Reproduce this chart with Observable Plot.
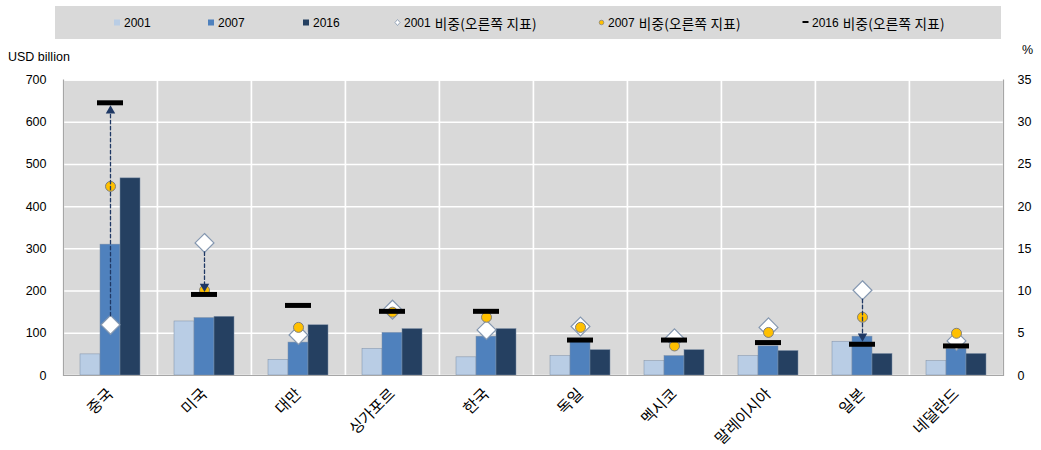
<!DOCTYPE html>
<html><head><meta charset="utf-8">
<script src="https://cdn.jsdelivr.net/npm/d3@7"></script>
<script src="https://cdn.jsdelivr.net/npm/@observablehq/plot@0.6"></script>
<style>
body{margin:0;background:#fff;font-family:"Liberation Sans",Arial,"Noto Sans CJK KR",sans-serif;}
#wrap{position:relative;width:1041px;height:450px;overflow:hidden;}
#legend{position:absolute;left:55px;top:6px;width:946px;height:33px;background:#d9d9d9;font-family:"Liberation Sans Narrow","Liberation Sans","Noto Sans CJK KR",sans-serif;font-size:12px;color:#000;}
.item{position:absolute;top:0;height:33px;display:flex;align-items:center;white-space:nowrap;}
.item svg{margin-right:3px;}
.ko{font-family:"Noto Sans CJK KR",sans-serif;font-size:13.5px;letter-spacing:0.3px;margin-left:4px;white-space:pre;}
#chart{position:absolute;left:0;top:42px;}
.unit{position:absolute;font-size:12.5px;color:#000;}
</style></head><body>
<div id="wrap">
  <div id="legend"></div>
  <div class="unit" style="left:8px;top:50px;">USD billion</div>
  <div class="unit" style="left:1022px;top:43px;">%</div>
  <div id="chart"></div>
</div>
<script>
// ---- data ----
const categories = ["중국","미국","대만","싱가포르","한국","독일","멕시코","말레이시아","일본","네덜란드"];
const years = ["2001","2007","2016"];
const v2001 = [50,128,37,63,43,46,34,46,80,34];
const v2007 = [310,136,78,101,92,79,46,69,92,63];
const v2016 = [467,139,119,110,110,60,60,58,51,51];
const s2001 = [6.0,15.7,4.8,7.8,5.4,5.8,4.4,5.7,10.1,4.1];
const s2007 = [22.4,10.1,5.7,7.5,6.9,5.7,3.5,5.1,6.9,5.0];
const s2016 = [32.3,9.6,8.3,7.6,7.6,4.2,4.2,3.9,3.7,3.5];
const arrowCountries = ["중국","미국","일본"];
const leftTicks = [0,100,200,300,400,500,600,700];
const rightTicks = [0,5,10,15,20,25,30,35];
const legendYears = ["2001","2007","2016","2001","2007","2016"];
const legendSuffix = ["","","","비중(오른쪽 지표)","비중(오른쪽 지표)","비중(오른쪽 지표)"];

const barColors = ["#b9cde5","#4f81bd","#254061"];
const k = 700 / 35; // right axis (%) -> left axis (USD billion)

const barRows = categories.flatMap((c, i) =>
  years.map((y, j) => ({country: c, year: y, value: [v2001, v2007, v2016][j][i]})));
const shareRows = categories.map((c, i) => ({country: c, year: "2007", s01: s2001[i], s07: s2007[i], s16: s2016[i]}));
const arrowRows = shareRows.filter(d => arrowCountries.includes(d.country))
  .map(d => ({...d, up: d.s16 > d.s01}));

// ---- legend ----
const legend = d3.select("#legend");
const lpos = [59, 153, 248, 339, 543, 747];
legendYears.forEach((t, i) => {
  const it = legend.append("div").attr("class", "item").style("left", lpos[i] + "px");
  const s = it.append("svg").attr("width", 7).attr("height", 9);
  if (i < 3) s.append("rect").attr("x", 0).attr("y", 1.5).attr("width", 6).attr("height", 6).attr("fill", barColors[i]);
  else if (i === 3) s.append("path").attr("d", "M3.5,1.5L6,4.5L3.5,7.5L1,4.5Z").attr("fill", "#fff").attr("stroke", "#8497b0").attr("stroke-width", 0.8);
  else if (i === 4) s.append("circle").attr("cx", 3.5).attr("cy", 4.5).attr("r", 2.3).attr("fill", "#ffc000").attr("stroke", "#7f7f7f").attr("stroke-width", 0.7);
  else s.append("rect").attr("x", 0.5).attr("y", 3).attr("width", 6).attr("height", 2).attr("fill", "#000");
  it.append("span").text(t);
  if (legendSuffix[i]) it.append("span").attr("class", "ko").text(legendSuffix[i]);
});

// ---- chart ----
const chart = Plot.plot({
  width: 1041, height: 408,
  marginLeft: 62, marginRight: 38, marginTop: 37.5, marginBottom: 75,
  style: {fontFamily: "'Liberation Sans', Arial, sans-serif", fontSize: "12.5px", color: "#000", background: "transparent"},
  fx: {domain: categories, padding: 0, label: null},
  x: {domain: years, paddingInner: 0, paddingOuter: 0.77, axis: null},
  y: {domain: [0, 700], label: null},
  marks: [
    Plot.frame({fill: "#d9d9d9", stroke: "#fff", strokeWidth: 1.5}),
    Plot.gridY(leftTicks.slice(1), {stroke: "#fff", strokeOpacity: 1, strokeWidth: 1.5}),
    Plot.barY(barRows, {fx: "country", x: "year", y: "value", fill: d => barColors[years.indexOf(d.year)], stroke: "#7d8ea6", strokeWidth: 0.5}),
    Plot.ruleY([0], {stroke: "#a6a6a6", strokeWidth: 1.2}),
    Plot.frame({anchor: "left", stroke: "#a6a6a6", strokeWidth: 1.2, facetAnchor: "left"}),
    Plot.frame({anchor: "right", stroke: "#a6a6a6", strokeWidth: 1.2, facetAnchor: "right"}),
    Plot.axisY(leftTicks, {anchor: "left", tickSize: 0, tickPadding: 17, label: null}),
    Plot.axisY(rightTicks.map(d => d * k), {anchor: "right", tickSize: 0, tickPadding: 14, label: null, tickFormat: d => d / k}),
    Plot.axisFx({anchor: "bottom", tickRotate: -45, tickSize: 0, tickPadding: 16, label: null,
      fontSize: 15.5, fontFamily: "'Noto Sans CJK KR', sans-serif"}),
    Plot.dot(shareRows, {fx: "country", x: "year", y: d => d.s01 * k, symbol: "diamond2", r: 8.5, fill: "#fff", stroke: "#8497b0", strokeWidth: 1.2}),
    Plot.dot(shareRows, {fx: "country", x: "year", y: d => d.s07 * k, symbol: "circle", r: 5, fill: "#ffc000", stroke: "#7f7f7f", strokeWidth: 1}),
    Plot.arrow(arrowRows, {fx: "country", x1: "year", x2: "year", y1: d => d.s01 * k, y2: d => d.s16 * k,
      headLength: 0, insetStart: 9, insetEnd: 6, stroke: "#1f3864", strokeWidth: 1.3, strokeDasharray: "3.5,2.5"}),
    Plot.dot(arrowRows.filter(d => d.up), {fx: "country", x: "year", y: d => d.s16 * k, dy: 8, symbol: "triangle", r: 3.5, fill: "#1f3864", stroke: "none"}),
    Plot.dot(arrowRows.filter(d => !d.up), {fx: "country", x: "year", y: d => d.s16 * k, dy: -8, rotate: 180, symbol: "triangle", r: 3.5, fill: "#1f3864", stroke: "none"}),
    Plot.tickY(shareRows, {fx: "country", x: "year", y: d => d.s16 * k, stroke: "#000", strokeWidth: 5, insetLeft: -3, insetRight: -3})
  ]
});
document.getElementById("chart").appendChild(chart);
</script>
</body></html>
